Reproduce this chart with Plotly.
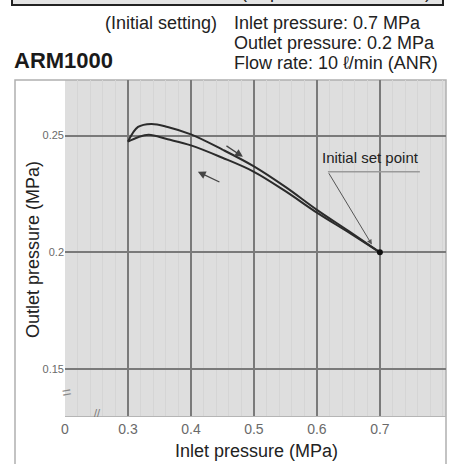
import plotly.graph_objects as go

# ---- data ----
inlet_up = [0.300, 0.316, 0.337, 0.363, 0.400, 0.450, 0.500, 0.550, 0.600, 0.650, 0.700]
outlet_up = [0.2474, 0.2537, 0.2550, 0.2537, 0.2505, 0.2440, 0.2368, 0.2280, 0.2182, 0.2092, 0.2000]
inlet_down = [0.300, 0.316, 0.333, 0.363, 0.400, 0.450, 0.500, 0.550, 0.600, 0.650, 0.700]
outlet_down = [0.2474, 0.2493, 0.2503, 0.2484, 0.2458, 0.2405, 0.2345, 0.2262, 0.2170, 0.2086, 0.2000]
set_point_x = [0.7]
set_point_y = [0.2]

x_tickvals = [0.2, 0.3, 0.4, 0.5, 0.6, 0.7]
x_ticktext = ["0", "0.3", "0.4", "0.5", "0.6", "0.7"]
y_tickvals = [0.15, 0.20, 0.25]
y_ticktext = ["0.15", "0.2", "0.25"]

W, H = 457, 464
L, R, T, B = 65, 446, 80, 416


def px(x):
    return (x - L) / (R - L)


def py(y):
    return (B - y) / (B - T)


FONT = "Liberation Sans, Arial, Helvetica, sans-serif"
LINE = "#2b2b2b"

fig = go.Figure()
fig.add_trace(go.Scatter(x=inlet_up, y=outlet_up, mode="lines",
                         line=dict(color=LINE, width=2, shape="spline", smoothing=1.0),
                         hoverinfo="skip", showlegend=False))
fig.add_trace(go.Scatter(x=inlet_down, y=outlet_down, mode="lines",
                         line=dict(color=LINE, width=2, shape="spline", smoothing=1.0),
                         hoverinfo="skip", showlegend=False))
fig.add_trace(go.Scatter(x=set_point_x, y=set_point_y, mode="markers",
                         marker=dict(color="#111", size=6),
                         hoverinfo="skip", showlegend=False))

shapes = [
    # outer frame around chart area
    dict(type="rect", xref="paper", yref="paper", x0=px(15), x1=px(446), y0=py(500), y1=py(80),
         line=dict(color="#b0b0b0", width=1.5), fillcolor="rgba(0,0,0,0)", layer="below"),
    # cut-off title box at top
    dict(type="rect", xref="paper", yref="paper", x0=px(12), x1=px(443), y0=py(5), y1=py(-20),
         line=dict(color="#222", width=2), fillcolor="#e4e4e4", layer="above"),
    # underline of "Initial set point"
    dict(type="line", xref="x", yref="y", x0=0.6175, x1=0.7635, y0=0.2345, y1=0.2345,
         line=dict(color="#9a9a9a", width=1.5)),
]

annotations = [
    dict(text="(Representative values)", xref="paper", yref="paper", x=px(433), y=py(4),
         xanchor="right", yanchor="bottom", showarrow=False,
         font=dict(family=FONT, size=18, color="#222")),
    dict(text="(Initial setting)", xref="paper", yref="paper", x=px(219), y=py(23),
         xanchor="right", yanchor="middle", showarrow=False,
         font=dict(family=FONT, size=18, color="#222")),
    dict(text="Inlet pressure: 0.7 MPa", xref="paper", yref="paper", x=px(232), y=py(23),
         xanchor="left", yanchor="middle", showarrow=False,
         font=dict(family=FONT, size=18, color="#222")),
    dict(text="Outlet pressure: 0.2 MPa", xref="paper", yref="paper", x=px(232), y=py(43),
         xanchor="left", yanchor="middle", showarrow=False,
         font=dict(family=FONT, size=18, color="#222")),
    dict(text="Flow rate: 10 \u2113/min (ANR)", xref="paper", yref="paper", x=px(232), y=py(63),
         xanchor="left", yanchor="middle", showarrow=False,
         font=dict(family=FONT, size=18, color="#222")),
    dict(text="<b>ARM1000</b>", xref="paper", yref="paper", x=px(12), y=py(61),
         xanchor="left", yanchor="middle", showarrow=False,
         font=dict(family=FONT, size=22, color="#1a1a1a")),
    dict(text="Inlet pressure (MPa)", xref="paper", yref="paper", x=px(256), y=py(451),
         xanchor="center", yanchor="middle", showarrow=False,
         font=dict(family=FONT, size=18, color="#222")),
    dict(text="Outlet pressure (MPa)", xref="paper", yref="paper", x=px(33), y=py(250),
         xanchor="center", yanchor="middle", showarrow=False, textangle=-90,
         font=dict(family=FONT, size=18, color="#222")),
    # axis break marks
    dict(text="//", xref="paper", yref="paper", x=px(97), y=py(413),
         xanchor="center", yanchor="middle", showarrow=False,
         font=dict(family=FONT, size=11, color="#777")),
    dict(text="=", xref="paper", yref="paper", x=px(66), y=py(392),
         xanchor="center", yanchor="middle", showarrow=False, textangle=-10,
         font=dict(family=FONT, size=16, color="#888")),
    # direction arrows
    dict(x=0.4825, y=0.2409, ax=0.454, ay=0.2460, xref="x", yref="y", axref="x", ayref="y",
         text="", showarrow=True, arrowhead=2, arrowsize=1.2, arrowwidth=1.3, arrowcolor="#444"),
    dict(x=0.411, y=0.2345, ax=0.4476, ay=0.2298, xref="x", yref="y", axref="x", ayref="y",
         text="", showarrow=True, arrowhead=2, arrowsize=1.2, arrowwidth=1.3, arrowcolor="#444"),
    # Initial set point
    dict(text="Initial set point", x=0.6857, y=0.2405, xref="x", yref="y",
         xanchor="center", yanchor="middle", showarrow=False,
         font=dict(family=FONT, size=15, color="#222")),
    dict(x=0.6873, y=0.2033, ax=0.6175, ay=0.2345, xref="x", yref="y", axref="x", ayref="y",
         text="", showarrow=True, arrowhead=2, arrowsize=1, arrowwidth=1, arrowcolor="#555"),
]

fig.update_layout(
    width=W, height=H,
    margin=dict(l=L, r=W - R, t=T, b=H - B, pad=0),
    paper_bgcolor="white",
    plot_bgcolor="#dedede",
    shapes=shapes,
    annotations=annotations,
    showlegend=False,
    xaxis=dict(range=[0.2, 0.805], tickmode="array", tickvals=x_tickvals, ticktext=x_ticktext,
               showgrid=True, gridcolor="#7a7a7a", gridwidth=1.5,
               minor=dict(dtick=0.02, showgrid=True, gridcolor="#d5d5d5", gridwidth=1),
               zeroline=False, showline=True, linecolor="#b5b5b5", linewidth=1, mirror=False,
               ticks="", tickfont=dict(family=FONT, size=14, color="#6a6a6a"), fixedrange=True),
    yaxis=dict(range=[0.1299, 0.2738], tickmode="array", tickvals=y_tickvals, ticktext=y_ticktext,
               showgrid=True, gridcolor="#7a7a7a", gridwidth=1.5,
               zeroline=False, showline=False,
               ticks="", tickfont=dict(family=FONT, size=11, color="#6a6a6a"), fixedrange=True),
)

fig.write_html("out.html", config={"displayModeBar": False},
               post_script="document.body.style.margin='0';document.body.style.overflow='hidden';")
